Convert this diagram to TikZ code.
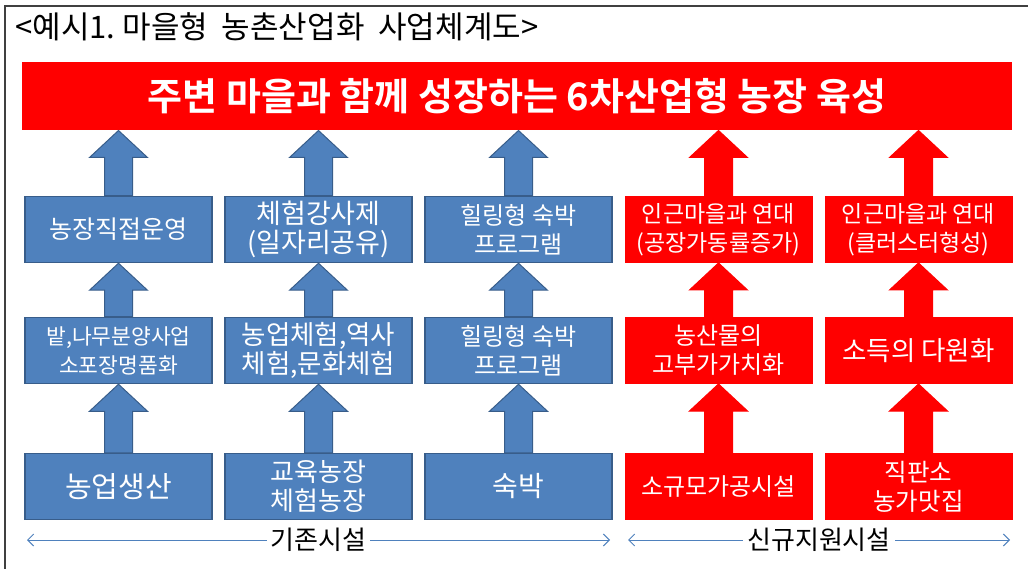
\documentclass[tikz,border=0pt]{standalone}
\usepackage{fontspec}
\setmainfont{Noto Sans CJK KR}[BoldFont={Noto Sans CJK KR Bold}]
\usetikzlibrary{arrows.meta, calc}
\definecolor{cblue}{HTML}{4F81BD}
\definecolor{cblueline}{HTML}{385D8A}
\definecolor{cred}{HTML}{FF0000}
\definecolor{cframe}{HTML}{404040}
\tikzset{
  every picture/.style={line width=1pt},
  box/.style={fill=#1, draw=#1, minimum width=187pt, minimum height=66pt, inner sep=2pt, align=center, text=white},
  bluebox/.style={box=cblue, draw=cblueline, line width=1.5pt},
  redbox/.style={box=cred},
  banner/.style={fill=cred, minimum width=990pt, minimum height=68pt, inner sep=0pt, text=white, font=\fontsize{38}{44}\selectfont\bfseries},
  heading/.style={font=\fontsize{31}{36}\selectfont, inner sep=0pt},
  span/.style={{Straight Barb[length=6pt, width=12pt]}-{Straight Barb[length=6pt, width=12pt]}, draw=cblue, line width=1pt},
  spanlabel/.style={fill=white, inner sep=4pt, font=\fontsize{26}{30}\selectfont},
}
% filled up-arrow from the top of one node to the bottom of the next
\newcommand{\blockup}[4]{% fill, outline, lower node, upper node
  \filldraw[fill=#1, draw=#2] let \p1=(#3.north), \p2=(#4.south) in
    (\x1-14,\y1) -- (\x1-14,\y2-27) -- (\x1-29,\y2-27) -- (\x1,\y2)
    -- (\x1+29,\y2-27) -- (\x1+14,\y2-27) -- (\x1+14,\y1) -- cycle;}

\begin{document}
\begin{tikzpicture}[x=1pt, y=-1pt]
  \useasboundingbox (0,0) rectangle (1028,569);
  \draw[cframe, line width=2pt] (5,569) -- (5,6) -- (1028,6);
  \node[heading, anchor=west] (ttl) at (15,27) {<예시1.~마을형~~농촌산업화~~사업체계도>};
  \node[banner] (goal) at (517,96) {주변 마을과 함께 성장하는 6차산업형 농장 육성};
  % three rows of boxes, existing facilities in blue, new ones in red
  \foreach \n/\x/\y/\s/\t in {t1/118.5/229.5/25/농장직접운영, t2/318.5/229.5/27/{체험강사제\\(일자리공유)}, t3/518.5/229.5/24/{힐링형 숙박\\프로그램},
                              m1/118.5/350.5/21.5/{밭,나무분양사업\\소포장명품화}, m2/318.5/350.5/26.5/{농업체험,역사\\체험,문화체험}, m3/518.5/350.5/24/{힐링형 숙박\\프로그램},
                              b1/118.5/486.5/29/농업생산, b2/318.5/486.5/26/{교육농장\\체험농장}, b3/518.5/486.5/28/숙박}
    \node[bluebox, font=\fontsize{\s}{29}\selectfont] (\n) at (\x,\y) {\t};
  \foreach \n/\x/\y/\s/\t in {t4/718.5/229.5/23/{인근마을과 연대\\(공장가동률증가)}, t5/918.5/229.5/23/{인근마을과 연대\\(클러스터형성)},
                              m4/718.5/350.5/24/{농산물의\\고부가가치화}, m5/918.5/350.5/26.5/{소득의 다원화},
                              b4/718.5/486.5/24/소규모가공시설, b5/918.5/486.5/24.5/{직판소\\농가맛집}}
    \node[redbox, font=\fontsize{\s}{29}\selectfont] (\n) at (\x,\y) {\t};
  % block arrows up each column
  \foreach \i in {1,2,3} {
    \blockup{cblue}{cblueline}{t\i}{goal}
    \blockup{cblue}{cblueline}{m\i}{t\i}
    \blockup{cblue}{cblueline}{b\i}{m\i}
  }
  \foreach \i in {4,5} {
    \blockup{cred}{cred}{t\i}{goal}
    \blockup{cred}{cred}{m\i}{t\i}
    \blockup{cred}{cred}{b\i}{m\i}
  }
  % spans under the two groups
  \coordinate (oldL) at (27,540);
  \coordinate (oldR) at (610,540);
  \coordinate (newL) at (628,540);
  \coordinate (newR) at (1010,540);
  \draw[span] (oldL) -- node[spanlabel] (old) {기존시설} (oldR);
  \draw[span] (newL) -- node[spanlabel] (new) {신규지원시설} (newR);
\end{tikzpicture}
\end{document}
